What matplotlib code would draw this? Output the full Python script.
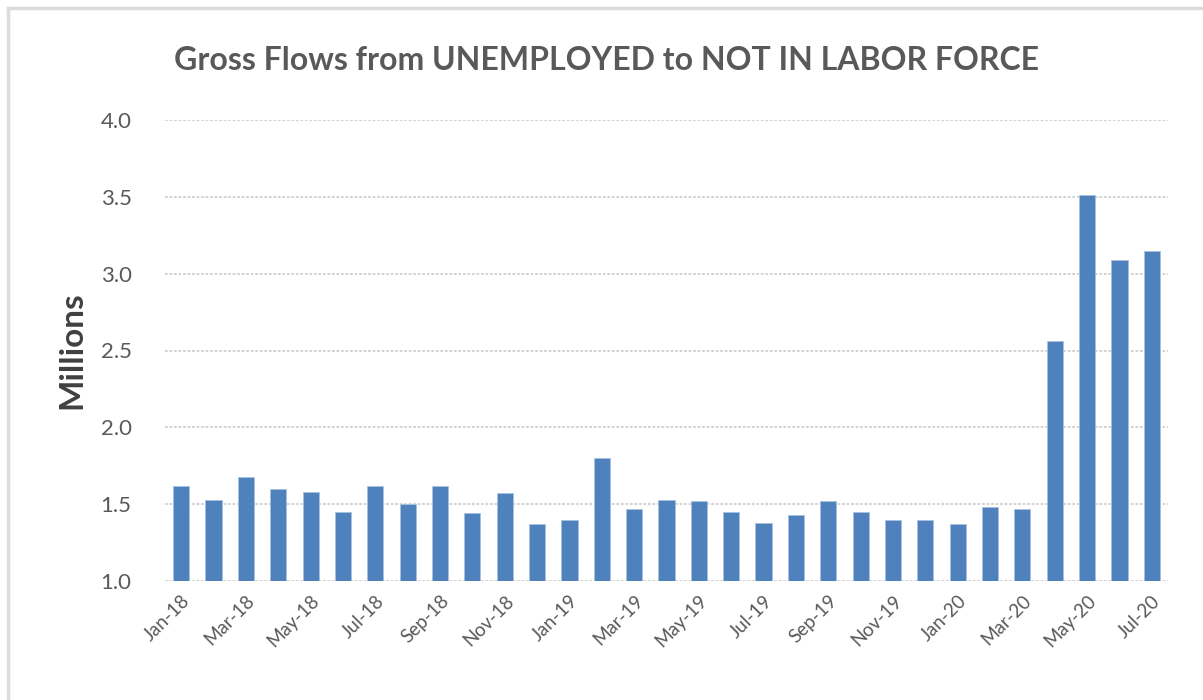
import numpy as np
import matplotlib.pyplot as plt
from matplotlib.lines import Line2D

plt.rcParams["font.family"] = ["Lato", "DejaVu Sans"]

months = ["Jan-18", "Feb-18", "Mar-18", "Apr-18", "May-18", "Jun-18",
          "Jul-18", "Aug-18", "Sep-18", "Oct-18", "Nov-18", "Dec-18",
          "Jan-19", "Feb-19", "Mar-19", "Apr-19", "May-19", "Jun-19",
          "Jul-19", "Aug-19", "Sep-19", "Oct-19", "Nov-19", "Dec-19",
          "Jan-20", "Feb-20", "Mar-20", "Apr-20", "May-20", "Jun-20",
          "Jul-20"]
flows = [1.62, 1.53, 1.68, 1.60, 1.58, 1.45,
         1.62, 1.50, 1.62, 1.44, 1.57, 1.37,
         1.40, 1.80, 1.47, 1.53, 1.52, 1.45,
         1.38, 1.43, 1.52, 1.45, 1.40, 1.40,
         1.37, 1.48, 1.47, 2.56, 3.51, 3.09,
         3.15]
yticks = [1.0, 1.5, 2.0, 2.5, 3.0, 3.5, 4.0]

text_gray = "#595959"
bar_blue = "#4f81bd"

fig = plt.figure(figsize=(12.03, 7.0), dpi=100)
ax = fig.add_axes([165 / 1203, 1 - 581 / 700, 1003 / 1203, 461 / 700])

x = np.arange(len(months))
ax.bar(x, flows, width=0.5, bottom=0, color=bar_blue,
       edgecolor="#a9c1e0", linewidth=0.6, zorder=3)

ax.set_xlim(-0.5, len(months) - 0.5)
ax.set_ylim(1.0, 4.0)
ax.set_yticks(yticks)
ax.set_yticklabels([f"{v:.1f}" for v in yticks], fontsize=16, color=text_gray)
ax.set_xticks(x[::2])
ax.set_xticklabels(months[::2], rotation=45, ha="right", rotation_mode="anchor",
                   fontsize=13.5, color=text_gray)
ax.tick_params(axis="both", length=0)
ax.tick_params(axis="y", pad=24)
ax.tick_params(axis="x", pad=8)

ax.grid(axis="y", color="#cfcfcf", linestyle=(0, (1.5, 1)), linewidth=1.3, zorder=0)
for s in ax.spines.values():
    s.set_visible(False)

ax.set_ylabel("Millions", fontsize=24, fontweight="bold", color="#404040")
ax.yaxis.set_label_coords(-0.078, 0.5)

fig.text(606 / 1203, 1 - 60 / 700, "Gross Flows from UNEMPLOYED to NOT IN LABOR FORCE",
         ha="center", va="center", fontsize=23, fontweight="bold", color=text_gray)

# light frame around the chart
fig.add_artist(Line2D([7.5 / 1203, 1.0], [1 - 8 / 700, 1 - 8 / 700],
                      transform=fig.transFigure, color="#dcdcdc", linewidth=2.5))
fig.add_artist(Line2D([7.5 / 1203, 7.5 / 1203], [0, 1 - 8 / 700],
                      transform=fig.transFigure, color="#dcdcdc", linewidth=2.5))

fig.savefig("out.png", dpi=100)
